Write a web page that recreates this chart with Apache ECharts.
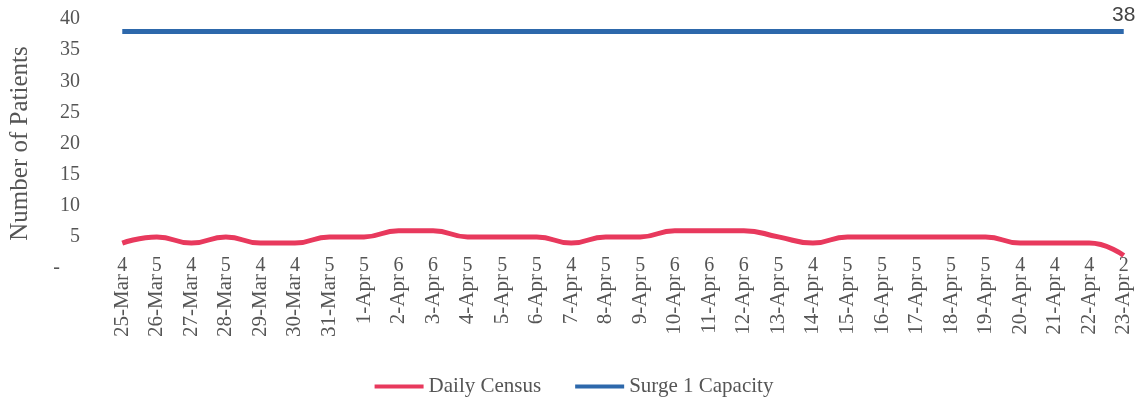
<!DOCTYPE html>
<html>
<head>
<meta charset="utf-8">
<script src="https://cdn.jsdelivr.net/npm/echarts@6/dist/echarts.min.js"></script>
<style>
  html, body { margin: 0; padding: 0; background: #fff; }
  #chart { width: 1148px; height: 402px; }
</style>
</head>
<body>
<div id="chart"></div>
<script>
  // dates on the x axis
  var categories = ['25-Mar', '26-Mar', '27-Mar', '28-Mar', '29-Mar', '30-Mar', '31-Mar',
    '1-Apr', '2-Apr', '3-Apr', '4-Apr', '5-Apr', '6-Apr', '7-Apr', '8-Apr', '9-Apr',
    '10-Apr', '11-Apr', '12-Apr', '13-Apr', '14-Apr', '15-Apr', '16-Apr', '17-Apr',
    '18-Apr', '19-Apr', '20-Apr', '21-Apr', '22-Apr', '23-Apr'];
  var dailyCensus = [4, 5, 4, 5, 4, 4, 5, 5, 6, 6, 5, 5, 5, 4, 5, 5, 6, 6, 6, 5, 4, 5, 5, 5, 5, 5, 4, 4, 4, 2];
  var surgeCapacity = [38, 38, 38, 38, 38, 38, 38, 38, 38, 38, 38, 38, 38, 38, 38,
    38, 38, 38, 38, 38, 38, 38, 38, 38, 38, 38, 38, 38, 38, 38];
  var yMin = 0, yMax = 40, yStep = 5;

  var serif = '"Liberation Serif", "DejaVu Serif", serif';
  var myChart = echarts.init(document.getElementById('chart'));

  var option = {
    animation: false,
    grid: { left: 98, right: 7, top: 19, bottom: 134, containLabel: false },
    legend: {
      data: ['Daily Census', 'Surge 1 Capacity'],
      left: 'center',
      top: 371,
      icon: 'rect',
      itemWidth: 49,
      itemHeight: 4,
      itemGap: 34,
      textStyle: { fontFamily: serif, fontSize: 21, color: '#555' }
    },
    xAxis: [
      {
        type: 'category',
        data: categories,
        position: 'bottom',
        axisLine: { show: false },
        axisTick: { show: false },
        axisLabel: {
          rotate: 90,
          margin: 6,
          interval: 0,
          fontFamily: serif,
          fontSize: 21,
          color: '#555'
        }
      },
      {
        // census values printed at the top of each date label
        type: 'category',
        data: categories,
        position: 'bottom',
        axisLine: { show: false },
        axisTick: { show: false },
        axisLabel: {
          margin: -12,
          interval: 0,
          fontFamily: serif,
          fontSize: 20,
          color: '#555',
          formatter: function (v, i) { return String(dailyCensus[i]); }
        }
      }
    ],
    yAxis: {
      type: 'value',
      min: yMin,
      max: yMax,
      interval: yStep,
      name: 'Number of Patients',
      nameLocation: 'middle',
      nameRotate: 90,
      nameGap: 72,
      nameTextStyle: { fontFamily: serif, fontSize: 25, color: '#555' },
      axisLine: { show: false },
      axisTick: { show: false },
      splitLine: { show: false },
      axisLabel: {
        margin: 25,
        fontFamily: serif,
        fontSize: 20,
        color: '#555',
        formatter: function (v) { return v === 0 ? '-    ' : String(v); }
      }
    },
    series: [
      {
        name: 'Daily Census',
        type: 'line',
        data: dailyCensus,
        smooth: 0.5,
        symbol: 'none',
        itemStyle: { color: '#e8395d' },
        lineStyle: { color: '#e8395d', width: 5 }
      },
      {
        name: 'Surge 1 Capacity',
        type: 'line',
        data: surgeCapacity,
        symbol: 'circle',
        symbolSize: 0,
        showSymbol: true,
        itemStyle: { color: '#2d68ab' },
        lineStyle: { color: '#2d68ab', width: 5 },
        label: {
          show: true,
          position: 'top',
          distance: 6,
          fontFamily: '"Liberation Sans", Arial, sans-serif',
          fontSize: 21,
          color: '#444',
          formatter: function (p) {
            return p.dataIndex === surgeCapacity.length - 1 ? String(p.value) : '';
          }
        }
      }
    ]
  };

  myChart.setOption(option, true);
</script>
</body>
</html>
